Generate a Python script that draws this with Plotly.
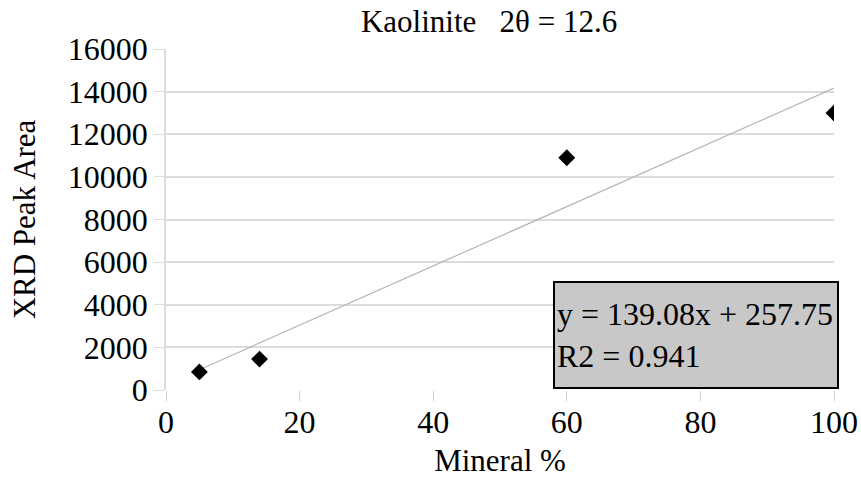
import plotly.graph_objects as go

# Mineral percentage vs. XRD peak area for kaolinite (2θ = 12.6)
mineral_pct = [5, 14, 60, 100]
peak_area = [850, 1450, 10900, 13000]

# Linear fit reported for the series
slope = 139.08
intercept = 257.75
r2 = 0.941
fit_x = [min(mineral_pct), max(mineral_pct)]
fit_y = [slope * x + intercept for x in fit_x]

font_family = "Liberation Serif"

fig = go.Figure()
fig.add_trace(go.Scatter(
    x=fit_x, y=fit_y, mode="lines",
    line=dict(color="#b4b4b4", width=1.2),
    hoverinfo="skip", showlegend=False,
))
fig.add_trace(go.Scatter(
    x=mineral_pct, y=peak_area, mode="markers",
    marker=dict(symbol="diamond", size=13, color="black"),
    showlegend=False,
))

fig.add_annotation(
    xref="paper", yref="paper", x=0.579, y=0.003,
    xanchor="left", yanchor="bottom",
    text=f"y = {slope}x + {intercept}<br>R2 = {r2}",
    showarrow=False, align="left",
    font=dict(family=font_family, size=32, color="black"),
    bgcolor="#c8c8c8", bordercolor="black", borderwidth=2, borderpad=2,
    width=278, height=100,
)

fig.update_layout(
    width=861, height=480,
    margin=dict(l=166, r=27, t=49, b=90),
    paper_bgcolor="white", plot_bgcolor="white",
    font=dict(family=font_family, color="black"),
    title=dict(text="Kaolinite   2θ = 12.6", x=0.568, xanchor="center",
               y=0.955, yanchor="middle",
               font=dict(family=font_family, size=31, color="black")),
    xaxis=dict(
        range=[0, 100], tickvals=[0, 20, 40, 60, 80, 100],
        showgrid=False, zeroline=False, automargin=False,
        ticks="outside", ticklen=10, tickcolor="#d0d0d0",
        ticklabelstandoff=-6,
        tickfont=dict(size=32),
        title=dict(text="Mineral %", font=dict(size=31), standoff=9),
        showline=False,
    ),
    yaxis=dict(
        range=[0, 16000], dtick=2000, tickformat="d",
        showgrid=True, gridcolor="#dcdcdc", gridwidth=1.5,
        zeroline=False, automargin=False,
        ticks="outside", ticklen=10, tickcolor="#dcdcdc",
        tickfont=dict(size=32),
        title=dict(text="XRD Peak Area", font=dict(size=31), standoff=23),
        showline=True, linecolor="#dcdcdc", linewidth=1.5,
    ),
)

fig.write_html("out.html")
